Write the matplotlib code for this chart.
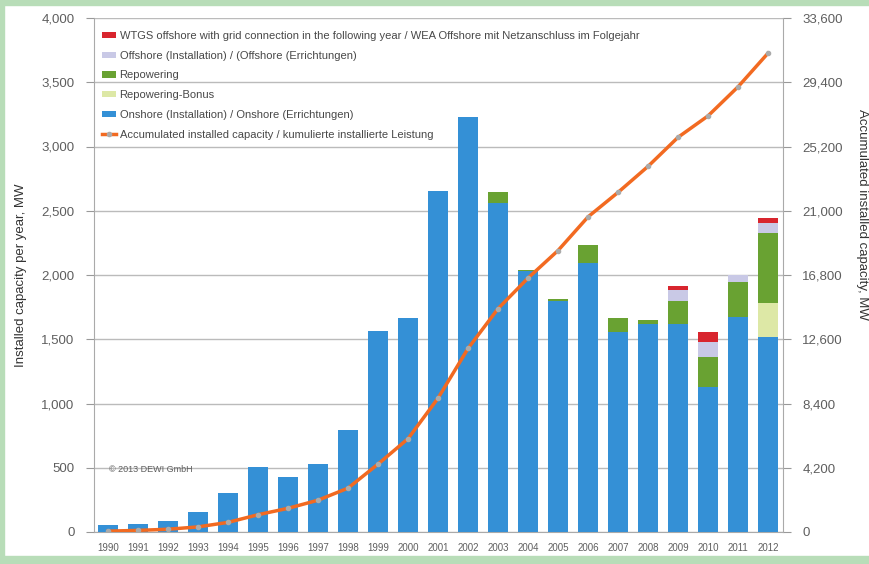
import numpy as np
import matplotlib
matplotlib.use("Agg")
import matplotlib.pyplot as plt
from matplotlib.patches import Rectangle

years = [str(y) for y in range(1990, 2013)]
onshore = [55, 65, 85, 155, 300, 505, 430, 530, 795, 1565, 1665, 2655, 3230,
           2560, 2030, 1800, 2095, 1555, 1620, 1620, 1130, 1675, 1517]
repowering_bonus = [0] * 22 + [265]
repowering = [0] * 13 + [85, 10, 10, 135, 110, 30, 180, 235, 270, 545]
offshore = [0] * 19 + [80, 110, 55, 80]
wtgs_next_year = [0] * 19 + [35, 85, 0, 40]
accumulated = [56, 106, 180, 335, 630, 1130, 1550, 2080, 2870, 4440, 6100, 8750,
               12000, 14600, 16600, 18400, 20600, 22200, 23900, 25800, 27200,
               29100, 31300]

c_on = "#3490d6"
c_bonus = "#dde8a6"
c_rep = "#69a232"
c_off = "#c9c9e6"
c_red = "#d8252e"
c_line = "#f26a21"
grey = "#5e5e5e"

plt.rcParams['font.family'] = ['Liberation Sans', 'DejaVu Sans']

fig = plt.figure(figsize=(8.69, 5.64), dpi=100)
ax = fig.add_axes([94 / 869, 1 - 532 / 564, (783 - 94) / 869, (532 - 18) / 564])

x = np.arange(len(years))
w = 0.66
bottom = np.zeros(len(years))
h_on = ax.bar(x, onshore, w, bottom=bottom, color=c_on, zorder=3)
bottom += onshore
h_bonus = ax.bar(x, repowering_bonus, w, bottom=bottom, color=c_bonus, zorder=3)
bottom += repowering_bonus
h_rep = ax.bar(x, repowering, w, bottom=bottom, color=c_rep, zorder=3)
bottom += repowering
h_off = ax.bar(x, offshore, w, bottom=bottom, color=c_off, zorder=3)
bottom += offshore
h_red = ax.bar(x, wtgs_next_year, w, bottom=bottom, color=c_red, zorder=3)

ax.set_xlim(-0.47, 22.5)
ax.set_ylim(0, 4000)
ax.set_yticks(range(0, 4001, 500))
ax.set_yticklabels([f"{v:,}" for v in range(0, 4001, 500)])
ax.set_xticks(x)
ax.set_xticklabels(years, fontsize=7, color=grey)
ax.tick_params(axis='x', length=0, pad=8)
ax.tick_params(axis='y', colors="#999999", labelcolor=grey, labelsize=9.5,
               length=6, direction='out', pad=8)
ax.grid(axis='y', color="#bbbbbb", lw=1, zorder=0)
for s in ["top", "right"]:
    ax.spines[s].set_visible(False)
ax.spines["left"].set_color("#aaaaaa")
ax.spines["bottom"].set_color("#aaaaaa")
ax.set_ylabel("Installed capacity per year, MW", fontsize=9.5, color="#333333",
              labelpad=10)

ax2 = ax.twinx()
ax2.set_ylim(0, 33600)
ax2.set_yticks(range(0, 33601, 4200))
ax2.set_yticklabels([f"{v:,}" for v in range(0, 33601, 4200)])
h_line, = ax2.plot(x, accumulated, color=c_line, lw=2.5, marker='o', ms=3,
                   mfc="#aaaaaa", mec="#aaaaaa", zorder=4)
ax2.tick_params(axis='y', colors="#999999", labelcolor=grey, labelsize=9.5,
                length=6, direction='out', pad=8)
for s in ["top", "left", "bottom"]:
    ax2.spines[s].set_visible(False)
ax2.spines["right"].set_color("#aaaaaa")
fig.text(0.992, 0.62, "Accumulated installed capacity, MW", rotation=-90,
         ha='center', va='center', fontsize=9.5, color="#333333")

ax.text(0.03, 470, "© 2013 DEWI GmbH", fontsize=6.5, color=grey, zorder=5)

handles = [h_red, h_off, h_rep, h_bonus, h_on, h_line]
labels = ["WTGS offshore with grid connection in the following year / WEA Offshore mit Netzanschluss im Folgejahr",
          "Offshore (Installation) / (Offshore (Errichtungen)",
          "Repowering",
          "Repowering-Bonus",
          "Onshore (Installation) / Onshore (Errichtungen)",
          "Accumulated installed capacity / kumulierte installierte Leistung"]
leg = ax2.legend(handles, labels, loc='upper left', bbox_to_anchor=(0.0, 0.99),
                 frameon=False, fontsize=8, handlelength=1.3, handleheight=0.5,
                 labelspacing=0.88, handletextpad=0.3, borderaxespad=0.3)
for t in leg.get_texts():
    t.set_color("#484848")

border = "#b8ddb8"
fig.patches.append(Rectangle((0, 0), 4 / 869, 1, transform=fig.transFigure,
                             color=border, zorder=10))
fig.patches.append(Rectangle((0, 1 - 5 / 564), 1, 5 / 564, transform=fig.transFigure,
                             color=border, zorder=10))
fig.patches.append(Rectangle((0, 0), 1, 8 / 564, transform=fig.transFigure,
                             color=border, zorder=10))

fig.savefig("out.png", dpi=100)
